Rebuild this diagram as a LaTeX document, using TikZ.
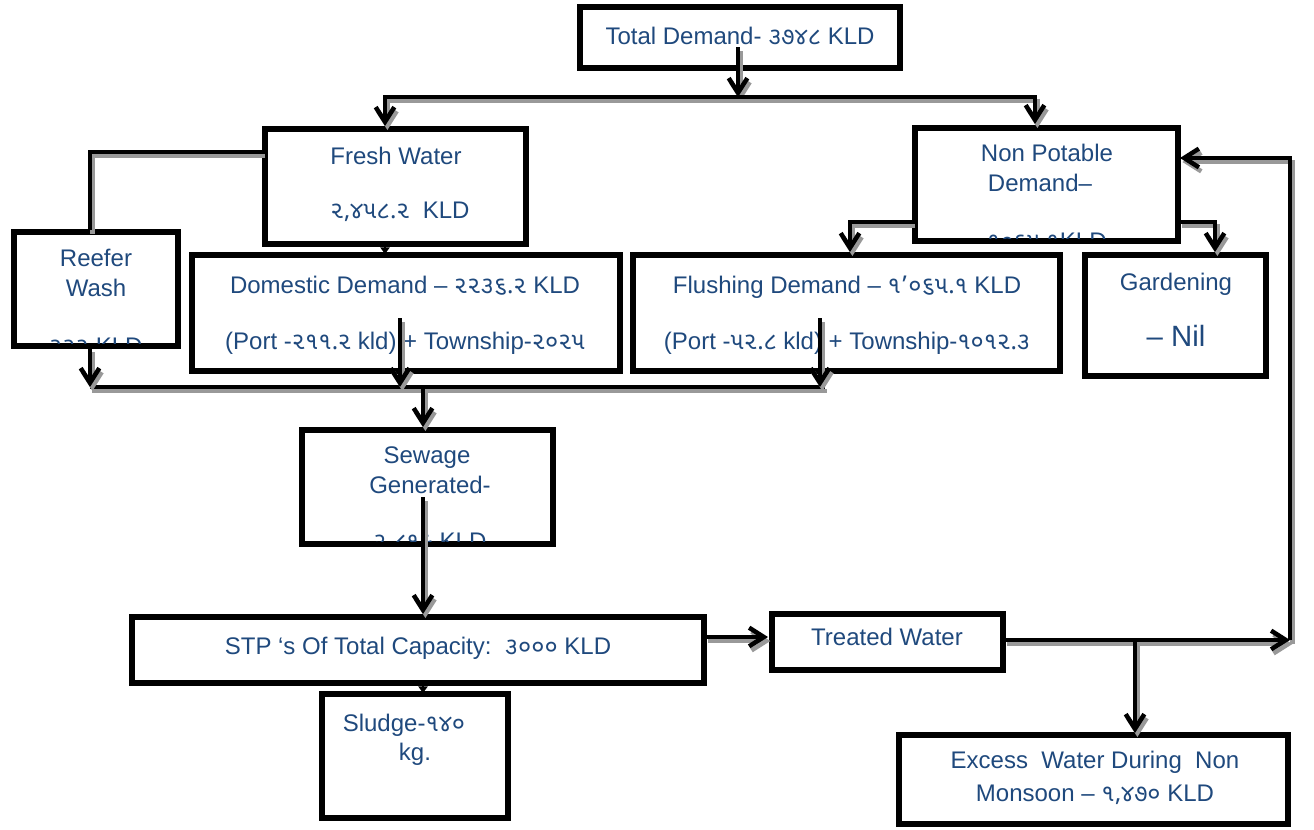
\documentclass[tikz,border=0pt]{standalone}
\usepackage{fontspec}
\setmainfont{Liberation Sans}
\newfontfamily\gujfont[Script=Gujarati]{Noto Sans Gujarati UI}
\newcommand\guj[1]{{\gujfont #1}}
\usetikzlibrary{arrows.meta}
\definecolor{tblue}{RGB}{31,73,125}
\begin{document}
\begin{tikzpicture}[x=0.75pt,y=-0.75pt,
  box/.style={draw, line width=4.2pt, fill=white, inner sep=0pt, outer sep=0pt},
  sz/.style 2 args={minimum width=#1*0.75pt, minimum height=#2*0.75pt},
  txt/.style={text=tblue, font=\fontsize{18}{21}\selectfont, inner sep=0pt, anchor=base},
  conn/.style={line width=3.4pt, line join=miter,
    preaction={draw=black!40, line width=3.4pt, transform canvas={shift={(1.8pt,-3pt)}}}},
  arr/.style={conn, -{Straight Barb[length=11pt,width=14pt,line width=3.4pt]}},
  tiny/.style={line width=1pt, -{Triangle[length=5pt,width=7pt]}}
]
\useasboundingbox[fill=white] (0,0) rectangle (1314,829);

% boxes
\node[box, sz={320}{61}]  (total)    at (740,37.5) {};
\node[box, sz={261}{115}] (fresh)    at (395.5,186.5) {};
\node[box, sz={263}{113}] (nonpot)   at (1046.5,184.5) {};
\node[box, sz={164}{114}] (reefer)   at (96,289) {};
\node[box, sz={428}{116}] (domestic) at (406,313) {};
\node[box, sz={427}{116}] (flushing) at (846.5,313) {};
\node[box, sz={181}{121}] (garden)   at (1175.5,315.5) {};
\node[box, sz={251}{114}] (sewage)   at (427.5,487) {};
\node[box, sz={572}{66}]  (stp)      at (418,650) {};
\node[box, sz={231}{56}]  (treated)  at (887.5,642) {};
\node[box, sz={186}{124}] (sludge)   at (415,756) {};
\node[box, sz={389}{89}]  (excess)   at (1093.5,779.5) {};

% texts
\node[txt] (t1) at (740,44.5) {Total Demand- \guj{૩૭૪૮} KLD};
\node[txt] (f1) at (396,164.5) {Fresh Water};
\node[txt] (f2) at (400,218.5) {\guj{૨,૪૫૮.૨}\ \ KLD};
\node[txt] (n1) at (1047,161.5) {Non Potable};
\node[txt] (n2) at (1040,191.5) {Demand–};
\begin{scope}
  \clip (918,131) rectangle (1175,238);
  \node[txt] (n3) at (1047,249) {\guj{૧૦૬૫.૧}KLD};
\end{scope}
\node[txt] (r1) at (96,266.5) {Reefer};
\node[txt] (r2) at (96,296.5) {Wash};
\begin{scope}
  \clip (17,235) rectangle (175,343);
  \node[txt] (r3) at (96,354) {\guj{૨૨૨} KLD};
\end{scope}
\node[txt] (d1) at (405,293.5) {Domestic Demand – \guj{૨૨૩૬.૨} KLD};
\node[txt] (d2) at (405,349.5) {(Port -\guj{૨૧૧.૨} kld) + Township-\guj{૨૦૨૫}};
\node[txt] (fl1) at (847,293.5) {Flushing Demand – \guj{૧’૦૬૫.૧} KLD};
\node[txt] (fl2) at (847,349.5) {(Port -\guj{૫૨.૮} kld) + Township-\guj{૧૦૧૨.૩}};
\node[txt] (g1) at (1176,290.5) {Gardening};
\node[txt, font=\fontsize{22}{26}\selectfont] (g2) at (1176,346.5) {– Nil};
\node[txt] (s1) at (427,463.5) {Sewage};
\node[txt] (s2) at (430,493.5) {Generated-};
\begin{scope}
  \clip (305,433) rectangle (550,541);
  \node[txt] (s3) at (430,549) {\guj{૨,૮૧૯} KLD};
\end{scope}
\node[txt] (p1) at (418,654.5) {STP ‘s Of Total Capacity:\ \ \guj{૩૦૦૦} KLD};
\node[txt] (w1) at (887,645.5) {Treated Water};
\node[txt] (sl1) at (404,731.5) {Sludge-\guj{૧૪૦}};
\node[txt] (sl2) at (415,760.5) {kg.};
\node[txt] (e1) at (1095,768.5) {Excess\ \ Water During\ \ Non};
\node[txt] (e2) at (1095,801.5) {Monsoon – \guj{૧,૪૭૦} KLD};

% junction coordinates
\coordinate (tA) at (738,47);
\coordinate (jT) at (738,97);
\coordinate (jL) at (385,126);
\coordinate (jR) at (1035,124);
\coordinate (fw) at (263,152);
\coordinate (rn) at (90,230);
\coordinate (rs) at (90,348);
\coordinate (bL) at (90,387);
\coordinate (bR) at (825,387);
\coordinate (dA) at (400,318);
\coordinate (dB) at (400,387);
\coordinate (fA) at (820,318);
\coordinate (fB) at (820,387);
\coordinate (sA) at (423,387);
\coordinate (sB) at (423,427);
\coordinate (sC) at (423,497);
\coordinate (sD) at (423,614);
\coordinate (nL) at (913,222);
\coordinate (nLd) at (850,252);
\coordinate (nR) at (1180,222);
\coordinate (nRd) at (1215,252);
\coordinate (pE) at (706,637);
\coordinate (wW) at (768,637);
\coordinate (wE) at (1005,640);
\coordinate (rc) at (1290,640);
\coordinate (rt) at (1290,158);
\coordinate (nE) at (1180,158);
\coordinate (xA) at (1135,640);
\coordinate (xB) at (1135,733);
\coordinate (fd1) at (385,243);
\coordinate (fd2) at (385,254);
\coordinate (ps1) at (423,683);
\coordinate (ps2) at (423,693);

% connectors
\draw[arr] (tA) -- (jT);
\draw[arr] (jT) -| (jL);
\draw[arr] (jT) -| (jR);
\draw[conn] (fw) -| (rn);
\draw[tiny] (fd1) -- (fd2);
\draw[arr] (nL) -| (nLd);
\draw[arr] (nR) -| (nRd);
\draw[conn] (bL) -- (bR);
\draw[arr] (rs) -- (bL);
\draw[arr] (dA) -- (dB);
\draw[arr] (fA) -- (fB);
\draw[arr] (sA) -- (sB);
\draw[arr] (sC) -- (sD);
\draw[tiny] (ps1) -- (ps2);
\draw[arr] (pE) -- (wW);
\draw[arr] (wE) -- (rc);
\draw[arr] (rc) -- (rt) -- (nE);
\draw[arr] (xA) -- (xB);
\end{tikzpicture}
\end{document}
